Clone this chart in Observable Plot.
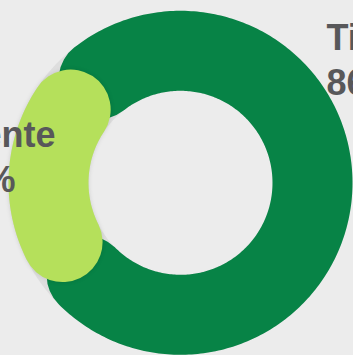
<!DOCTYPE html>
<html>
<head>
<meta charset="utf-8">
<script src="https://cdn.jsdelivr.net/npm/d3@7"></script>
<script src="https://cdn.jsdelivr.net/npm/@observablehq/plot@0.6"></script>
<style>
  html, body { margin: 0; padding: 0; background: #ececec; }
  #chart { width: 353px; height: 355px; overflow: hidden; }
  #chart svg text { font-family: "Liberation Sans", Arial, sans-serif; font-weight: 700; }
</style>
</head>
<body>
<div id="chart"></div>
<script>
// ---- data ----
const categories = ["Titular", "Suplente"];
const values = [86, 14];
const percentLabels = ["86%", "14%"];

// ---- style / layout ----
const colors = ["#078346", "#b5e05b"];
const trackColor = "#dedede";
const startDeg = -61.3;        // where the first slice begins (clockwise from 12 o'clock)
const midRadius = 132;         // ring centre-line radius (scale units = px)
const ringWidth = 80;          // ring thickness, px
const capShift = [23, -5];     // degrees the rounded ends are pulled in (+) / pushed out (-)

const total = d3.sum(values);
let acc = startDeg;
const slices = categories.map((name, i) => {
  const a0 = acc;
  const a1 = acc + values[i] / total * 360;
  acc = a1;
  return {name, value: values[i], a0, a1, i};
});

function arcPoints(from, to, key) {
  const n = Math.max(2, Math.ceil(Math.abs(to - from)));
  const pts = [];
  for (let k = 0; k <= n; k++) {
    const t = (from + (to - from) * k / n) * Math.PI / 180;
    pts.push({key, x: midRadius * Math.sin(t), y: midRadius * Math.cos(t)});
  }
  return pts;
}

const trackPts = arcPoints(0, 360, "track");
const slicePts = slices.map(s => arcPoints(s.a0 + capShift[s.i], s.a1 - capShift[s.i], s.name));

const textStyle = {fontSize: 36, fontWeight: "bold", fontFamily: "Liberation Sans", fill: "#58585a", lineHeight: 1.25, lineAnchor: "top"};

const chart = Plot.plot({
  width: 353,
  height: 355,
  margin: 0,
  x: {domain: [-180, 173], axis: null},
  y: {domain: [-172.7, 182.3], axis: null},
  style: {background: "#ececec", overflow: "visible"},
  marks: [
    Plot.line(trackPts, {x: "x", y: "y", stroke: trackColor, strokeWidth: ringWidth, strokeLinecap: "round"}),
    Plot.line(slicePts[0], {x: "x", y: "y", stroke: colors[0], strokeWidth: ringWidth, strokeLinecap: "round", strokeLinejoin: "round"}),
    Plot.line(slicePts[1], {x: "x", y: "y", stroke: colors[1], strokeWidth: ringWidth, strokeLinecap: "round", strokeLinejoin: "round"}),
    Plot.text([`${categories[0]}\n${percentLabels[0]}`], {frameAnchor: "top-left", dx: 326, dy: 18, textAnchor: "start", ...textStyle}),
    Plot.text([`${categories[1]}\n${percentLabels[1]}`], {frameAnchor: "top-left", dx: -21, dy: 115, textAnchor: "middle", ...textStyle})
  ]
});

// soft shadow under the light slice
const lines = d3.select(chart).selectAll("g[aria-label='line']").nodes();
if (lines.length) {
  d3.select(lines[lines.length - 1]).style("filter", "drop-shadow(0px 0px 2px rgba(0,0,0,0.12))");
}
document.getElementById("chart").appendChild(chart);
</script>
</body>
</html>
